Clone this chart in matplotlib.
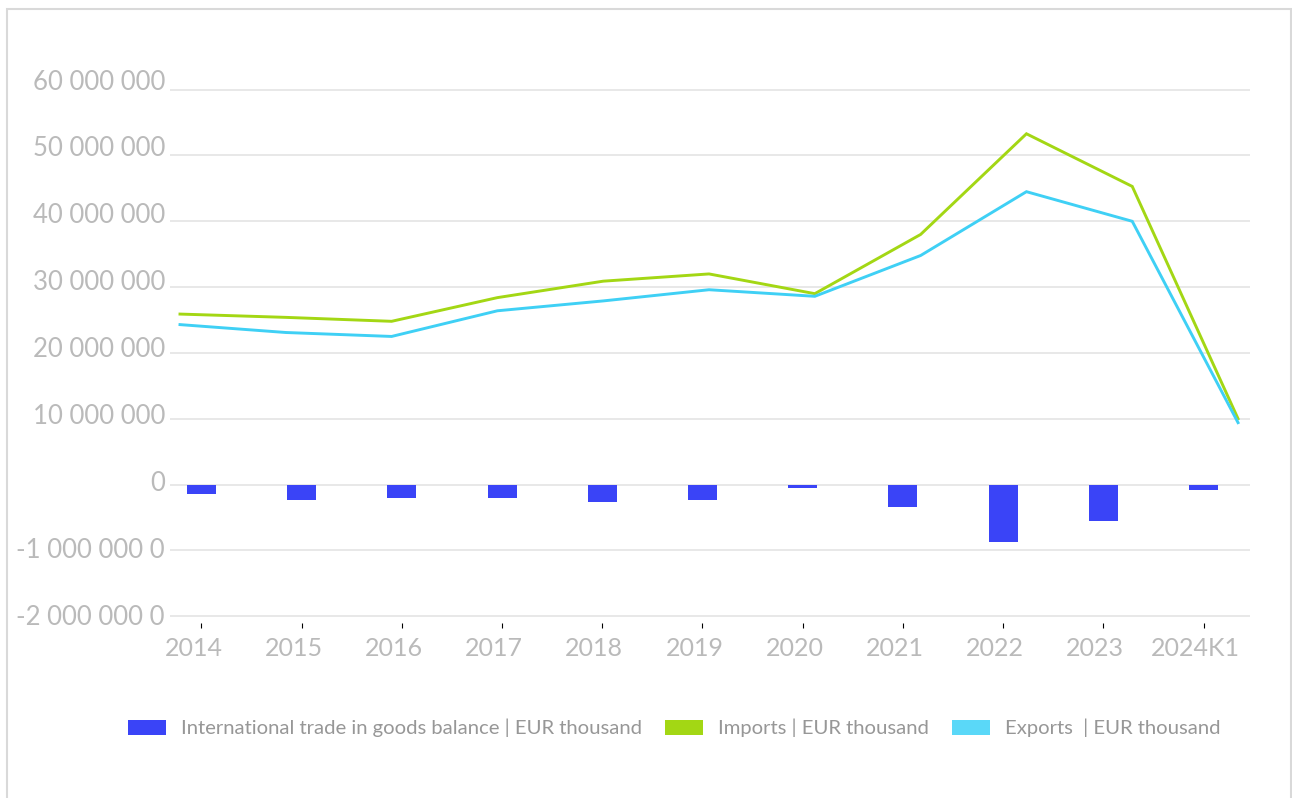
import matplotlib
matplotlib.use("Agg")
import matplotlib.pyplot as plt
import matplotlib.transforms as mtransforms
from matplotlib.patches import Patch, Rectangle

# ---- data (EUR thousand) ----
categories = ["2014", "2015", "2016", "2017", "2018", "2019",
              "2020", "2021", "2022", "2023", "2024K1"]
balance = [-1_500_000, -2_400_000, -2_100_000, -2_100_000, -2_600_000, -2_400_000,
           -600_000, -3_400_000, -8_700_000, -5_600_000, -850_000]
imports = [25_900_000, 25_400_000, 24_800_000, 28_400_000, 30_900_000, 32_000_000,
           29_000_000, 38_000_000, 53_300_000, 45_300_000, 10_000_000]
exports = [24_300_000, 23_100_000, 22_500_000, 26_400_000, 27_900_000, 29_600_000,
           28_600_000, 34_800_000, 44_500_000, 40_000_000, 9_400_000]
y_ticks = [60_000_000, 50_000_000, 40_000_000, 30_000_000, 20_000_000,
           10_000_000, 0, -10_000_000, -20_000_000]
y_tick_labels = ["60 000 000", "50 000 000", "40 000 000", "30 000 000",
                 "20 000 000", "10 000 000", "0", "-1 000 000 0", "-2 000 000 0"]
series_labels = ["International trade in goods balance | EUR thousand",
                 "Imports | EUR thousand",
                 "Exports  | EUR thousand"]

# ---- style ----
BAR_COLOR = "#3a44f7"
IMP_COLOR = "#a3d714"
EXP_COLOR = "#3fd0f5"
EXP_PATCH = "#5ad8f8"
GRID_COLOR = "#e6e6e6"
TICK_COLOR = "#bababa"
LEGEND_TEXT = "#979797"
FONT = ["Lato", "DejaVu Sans"]
Y_MIN, Y_MAX = -21_000_000, 61_000_000

W, H = 1292, 798
fig = plt.figure(figsize=(W / 100, H / 100), dpi=100)
fig.patch.set_facecolor("white")


def px_box(left, top, right, bottom):
    return [left / W, 1 - bottom / H, (right - left) / W, (bottom - top) / H]


# plot area
ax = fig.add_axes(px_box(170, 83.1, 1250, 622.7))
ax.set_ylim(Y_MIN, Y_MAX)
ax.set_xlim(-0.314, 10.464)

for s in ax.spines.values():
    s.set_visible(False)
ax.set_yticks(y_ticks)
ax.yaxis.grid(True, color=GRID_COLOR, linewidth=1.3)
ax.set_axisbelow(True)
ax.tick_params(axis="y", left=False, labelleft=False)

# balance bars on a banded category scale
xs = list(range(len(categories)))
ax.bar(xs, balance, width=0.289, color=BAR_COLOR, zorder=3)

ax.set_xticks(xs, categories)
ax.tick_params(axis="x", bottom=False, pad=7, labelsize=18, labelcolor=TICK_COLOR)
shift = mtransforms.ScaledTranslation(-8 / 100, 0, fig.dpi_scale_trans)
for lab in ax.get_xticklabels():
    lab.set_fontfamily(FONT)
    lab.set_transform(lab.get_transform() + shift)

# value labels of the left axis, laid out on their own slightly taller scale
axl = fig.add_axes(px_box(0, 82.9, 165, 631.5))
axl.set_ylim(Y_MIN, Y_MAX)
axl.set_xlim(0, 1)
axl.axis("off")
for v, t in zip(y_ticks, y_tick_labels):
    axl.text(1.0, v, t, ha="right", va="baseline", fontsize=18.5,
             color=TICK_COLOR, family=FONT, clip_on=False)

# import / export lines on an edge-to-edge category scale
ax2 = ax.twiny()
ax2.set_xlim(-0.0945, 10.113)
for s in ax2.spines.values():
    s.set_visible(False)
ax2.tick_params(top=False, labeltop=False)
ax2.plot(xs, imports, color=IMP_COLOR, linewidth=2.1, zorder=4,
         solid_joinstyle="miter")
ax2.plot(xs, exports, color=EXP_COLOR, linewidth=2.1, zorder=4,
         solid_joinstyle="miter")

# legend
handles = [Patch(facecolor=BAR_COLOR, edgecolor="none"),
           Patch(facecolor=IMP_COLOR, edgecolor="none"),
           Patch(facecolor=EXP_PATCH, edgecolor="none")]
leg = fig.legend(handles, series_labels, loc="center",
                 bbox_to_anchor=(674 / W, 1 - 728 / H), ncol=3, frameon=False,
                 prop={"family": FONT, "size": 14.6},
                 handlelength=1.9, handleheight=0.75, handletextpad=0.7,
                 columnspacing=1.15, borderpad=0)
for t in leg.get_texts():
    t.set_color(LEGEND_TEXT)

# outer frame
fig.add_artist(Rectangle((7 / W, -0.02), (1291 - 7) / W, 1.02 - 9 / H,
                         transform=fig.transFigure, fill=False,
                         edgecolor="#d9d9d9", linewidth=1.5))

fig.savefig("out.png", dpi=100, facecolor="white")
